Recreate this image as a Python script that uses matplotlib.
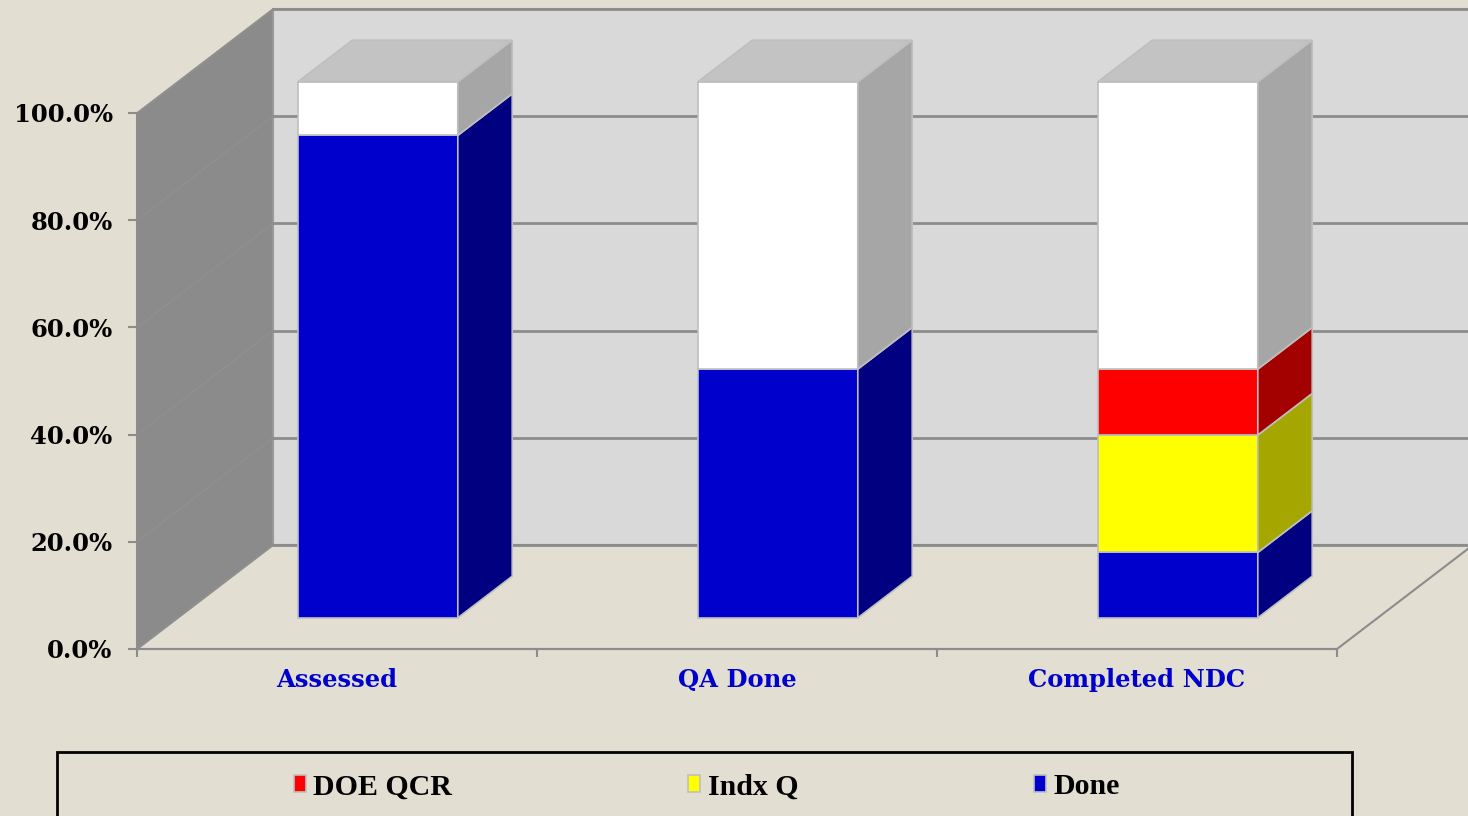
import matplotlib
matplotlib.use("Agg")
import matplotlib.pyplot as plt
from matplotlib.patches import Polygon, Patch, Rectangle
from matplotlib.ticker import FixedLocator

# ---------------- data ----------------
categories = ["Assessed", "QA Done", "Completed NDC"]
series_names = ["DOE QCR", "Indx Q", "Done"]
done = [90.0, 46.4, 12.2]
indx_q = [0.0, 0.0, 21.9]
doe_qcr = [0.0, 0.0, 12.3]
y_ticks = [0, 20, 40, 60, 80, 100]
y_tick_labels = [f"{v:.1f}%" for v in y_ticks]

# ---------------- style ----------------
BG = "#E3DED2"
BACK_WALL = "#D9D9D9"
SIDE_WALL = "#8B8B8B"
GRID = "#8C8C8C"
EDGE = "#BFBFBF"
front_col = {"Done": "#0000CC", "Indx Q": "#FFFF00", "DOE QCR": "#FF0000", "rest": "#FFFFFF"}
side_col = {"Done": "#000080", "Indx Q": "#A6A600", "DOE QCR": "#A30000", "rest": "#A6A6A6"}
TOP_COL = "#C3C3C3"

DX, DY = 0.34, 19.4          # full depth offset in data units
D0, D1 = 0.30, 0.70          # bar depth range (fraction of full depth)
BAR_W = 0.4

fig = plt.figure(figsize=(14.68, 8.16), dpi=100, facecolor=BG)
ax = fig.add_axes([137 / 1468, (816 - 649) / 816, 1200 / 1468, (649 - 113) / 816])
ax.set_xlim(0, len(categories))
ax.set_ylim(0, 100)
ax.patch.set_visible(False)

def poly(pts, fc, ec=EDGE, lw=1.2, z=1):
    ax.add_patch(Polygon(pts, closed=True, facecolor=fc, edgecolor=ec, lw=lw,
                         zorder=z, clip_on=False, joinstyle="miter"))

n = len(categories)
# back wall
poly([(DX, DY), (n + DX, DY), (n + DX, 100 + DY), (DX, 100 + DY)], BACK_WALL, ec="#A0A0A0", lw=1.5, z=0.5)
# side wall
poly([(0, 0), (0, 100), (DX, 100 + DY), (DX, DY)], SIDE_WALL, ec="#9A9A9A", lw=1.0, z=0.6)
# floor
poly([(0, 0), (n, 0), (n + DX, DY), (DX, DY)], BG, ec=GRID, lw=1.5, z=0.7)

# gridlines
for t in y_ticks:
    ax.plot([DX, n + DX], [t + DY, t + DY], color=GRID, lw=2.0, zorder=0.8, clip_on=False)
    ax.plot([0, DX], [t, t + DY], color="#909090", lw=1.0, zorder=0.8, clip_on=False)

# bars
for i in range(n):
    c = i + 0.5
    x0, x1 = c - BAR_W / 2, c + BAR_W / 2
    segs = [("Done", done[i]), ("Indx Q", indx_q[i]), ("DOE QCR", doe_qcr[i])]
    total = sum(v for _, v in segs)
    segs.append(("rest", 100 - total))
    b = 0.0
    for name, v in segs:
        if v <= 0:
            continue
        t = b + v
        # front face
        poly([(x0 + D0 * DX, b + D0 * DY), (x1 + D0 * DX, b + D0 * DY),
              (x1 + D0 * DX, t + D0 * DY), (x0 + D0 * DX, t + D0 * DY)], front_col[name], z=3)
        # side face
        poly([(x1 + D0 * DX, b + D0 * DY), (x1 + D1 * DX, b + D1 * DY),
              (x1 + D1 * DX, t + D1 * DY), (x1 + D0 * DX, t + D0 * DY)], side_col[name], z=3)
        b = t
    # top face
    poly([(x0 + D0 * DX, b + D0 * DY), (x1 + D0 * DX, b + D0 * DY),
          (x1 + D1 * DX, b + D1 * DY), (x0 + D1 * DX, b + D1 * DY)], TOP_COL, z=3)

# axes / ticks
for s in ["top", "right"]:
    ax.spines[s].set_visible(False)
for s in ["left", "bottom"]:
    ax.spines[s].set_color("#8C8C8C")
    ax.spines[s].set_linewidth(1.5)
    ax.spines[s].set_zorder(1)

ax.yaxis.set_major_locator(FixedLocator(y_ticks))
ax.set_yticklabels(y_tick_labels, fontfamily="DejaVu Serif", fontweight="bold",
                   fontsize=17.5, color="black")
ax.tick_params(axis="y", length=6.5, width=1.5, color="#8C8C8C", pad=11)

ax.set_xticks([i + 0.5 for i in range(n)])
ax.set_xticklabels(categories, fontfamily="DejaVu Serif", fontweight="bold",
                   fontsize=17.5, color="#0000CC")
ax.set_xticks(list(range(n + 1)), minor=True)
ax.tick_params(axis="x", which="major", length=0, pad=14)
ax.tick_params(axis="x", which="minor", length=6, width=1.5, color="#8C8C8C")

# legend
handles = [Patch(facecolor=front_col[nm], edgecolor=EDGE, lw=1.2) for nm in series_names]
fig.legend(handles, series_names, ncol=3, loc="center",
           bbox_to_anchor=(707 / 1468, 29 / 816), frameon=False,
           prop={"family": "Liberation Serif", "weight": "bold", "size": 21.5},
           handlelength=0.4, handleheight=0.5, handletextpad=0.26,
           columnspacing=7.9, borderpad=0)
fig.patches.append(Rectangle((57 / 1468, -0.05), 1295 / 1468, (816 - 752) / 816 + 0.05,
                             transform=fig.transFigure, fill=False, edgecolor="black",
                             lw=2, zorder=5))

fig.savefig("out.png", dpi=100, facecolor=BG)
